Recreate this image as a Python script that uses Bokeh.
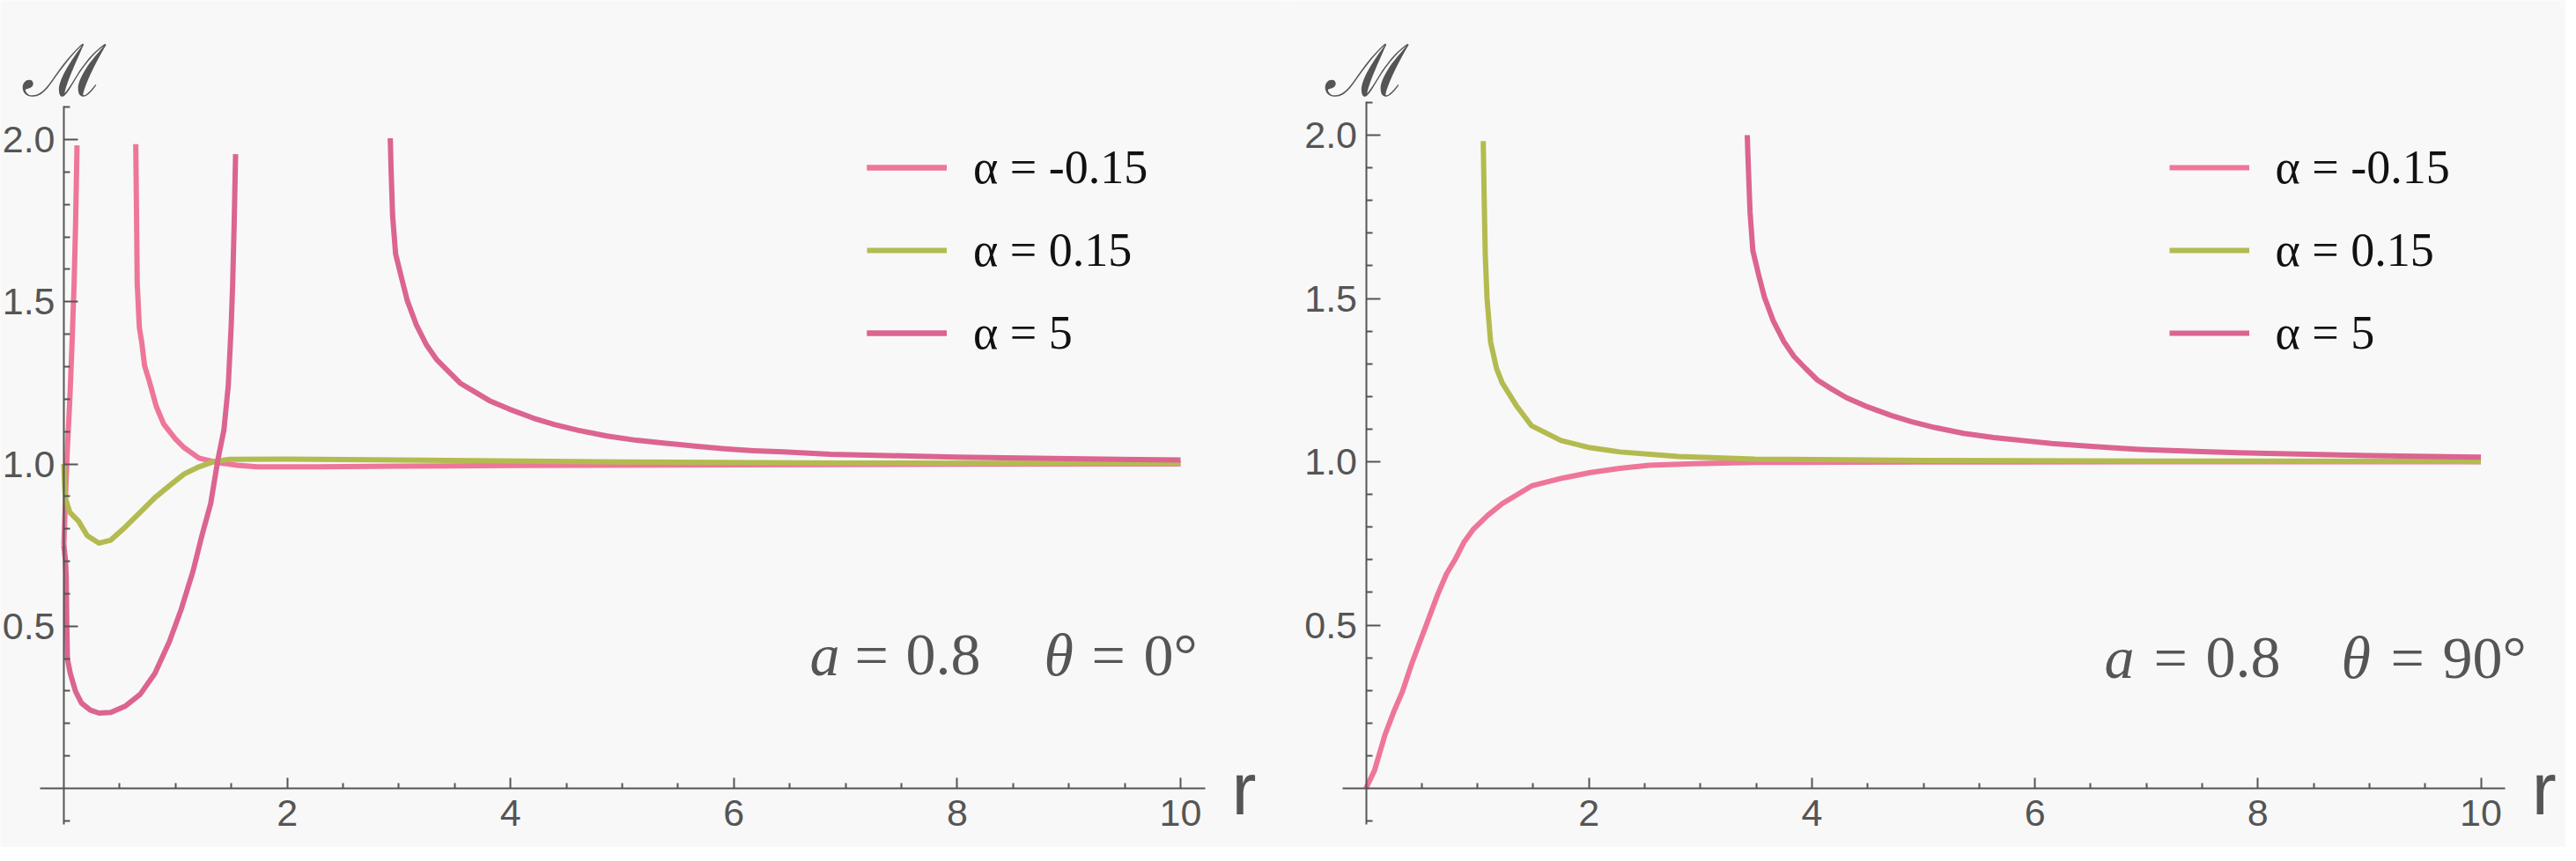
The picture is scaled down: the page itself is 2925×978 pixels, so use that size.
from bokeh.plotting import figure
from bokeh.models import Range1d, FixedTicker, BasicTickFormatter, PrintfTickFormatter, Label
from bokeh.layouts import row
from bokeh.embed import file_html
from bokeh.resources import INLINE
from bokeh.core.properties import value

# ---------------- data ----------------
legend_labels = ["α = -0.15", "α = 0.15", "α = 5"]
x_major = [2, 4, 6, 8, 10]
x_minor = [0.5, 1, 1.5, 2.5, 3, 3.5, 4.5, 5, 5.5, 6.5, 7, 7.5, 8.5, 9, 9.5]
y_major = [0.5, 1.0, 1.5, 2.0]
y_minor = [-0.1, 0.1, 0.2, 0.3, 0.4, 0.6, 0.7, 0.8, 0.9, 1.1, 1.2, 1.3, 1.4,
           1.6, 1.7, 1.8, 1.9, 2.1]

# theta = 0 deg
t0_neg_inner_r = [0.0, 0.01, 0.02, 0.032, 0.053, 0.074, 0.092, 0.105, 0.118]
t0_neg_inner_m = [0.75, 0.85, 0.95, 1.05, 1.195, 1.376, 1.557, 1.738, 1.982]
t0_neg_outer_r = [0.644, 0.649, 0.657, 0.676, 0.697, 0.723, 0.762, 0.828, 0.894, 0.999,
                  1.078, 1.21, 1.367, 1.551, 1.735, 2.261, 3.0, 4.0, 6.0, 8.0, 10.0]
t0_neg_outer_m = [1.986, 1.828, 1.557, 1.421, 1.376, 1.303, 1.259, 1.177, 1.123, 1.077,
                  1.05, 1.018, 1.005, 0.996, 0.991, 0.991, 0.993, 0.995, 0.997, 0.999, 1.0]
t0_pos_r = [0.0, 0.005, 0.013, 0.053, 0.131, 0.21, 0.315, 0.42, 0.552, 0.684, 0.815,
            0.946, 1.078, 1.209, 1.341, 1.472, 2.0, 3.0, 5.0, 7.0, 10.0]
t0_pos_m = [1.0, 0.95, 0.896, 0.851, 0.824, 0.779, 0.756, 0.765, 0.806, 0.851, 0.896,
            0.933, 0.969, 0.991, 1.007, 1.014, 1.015, 1.012, 1.006, 1.003, 1.002]
t0_five_inner_r = [0.0, 0.015, 0.021, 0.026, 0.032, 0.058, 0.105, 0.158, 0.237, 0.315,
                   0.42, 0.552, 0.684, 0.815, 0.946, 1.052, 1.157, 1.236, 1.315, 1.38,
                   1.433, 1.472, 1.498, 1.512, 1.525, 1.538]
t0_five_inner_m = [0.75, 0.70, 0.652, 0.516, 0.399, 0.354, 0.299, 0.263, 0.241, 0.232,
                   0.234, 0.254, 0.29, 0.354, 0.453, 0.553, 0.67, 0.779, 0.878, 1.014,
                   1.104, 1.24, 1.421, 1.557, 1.738, 1.955]
t0_five_outer_r = [2.923, 2.931, 2.944, 2.971, 3.023, 3.076, 3.155, 3.247, 3.338, 3.444,
                   3.549, 3.68, 3.812, 3.996, 4.206, 4.39, 4.6, 4.863, 5.126, 5.389, 5.652,
                   5.915, 6.178, 6.441, 6.861, 7.5, 8.0, 9.0, 10.0]
t0_five_outer_m = [2.004, 1.9, 1.765, 1.647, 1.575, 1.503, 1.43, 1.367, 1.322, 1.285,
                   1.249, 1.222, 1.195, 1.168, 1.141, 1.122, 1.104, 1.086, 1.073, 1.064,
                   1.055, 1.047, 1.041, 1.037, 1.03, 1.025, 1.021, 1.016, 1.012]

# theta = 90 deg
t90_neg_r = [0.0, 0.077, 0.17, 0.249, 0.328, 0.407, 0.486, 0.565, 0.644, 0.723, 0.802,
             0.881, 0.96, 1.092, 1.223, 1.486, 1.75, 2.013, 2.276, 2.54, 2.934, 3.487,
             5.0, 7.0, 10.0]
t90_neg_m = [0.0, 0.055, 0.163, 0.234, 0.297, 0.378, 0.45, 0.522, 0.594, 0.657, 0.702,
             0.755, 0.792, 0.836, 0.872, 0.926, 0.949, 0.967, 0.98, 0.989, 0.994, 0.998,
             0.999, 1.0, 1.0]
t90_pos_r = [1.052, 1.06, 1.07, 1.086, 1.118, 1.171, 1.223, 1.355, 1.486, 1.75, 2.01,
             2.28, 2.8, 3.49, 5.0, 7.0, 10.0]
t90_pos_m = [1.982, 1.816, 1.636, 1.501, 1.367, 1.286, 1.241, 1.169, 1.11, 1.065, 1.043,
             1.03, 1.016, 1.008, 1.004, 1.002, 1.001]
t90_five_r = [3.42, 3.43, 3.445, 3.47, 3.52, 3.575, 3.655, 3.75, 3.84, 3.945, 4.05, 4.18,
              4.31, 4.5, 4.71, 4.89, 5.1, 5.36, 5.63, 5.89, 6.15, 6.42, 6.68, 6.94, 7.5,
              8.0, 9.0, 10.0]
t90_five_m = [2.0, 1.9, 1.765, 1.647, 1.575, 1.503, 1.43, 1.367, 1.322, 1.285, 1.25,
              1.222, 1.196, 1.168, 1.142, 1.123, 1.105, 1.087, 1.074, 1.065, 1.056, 1.049,
              1.043, 1.038, 1.031, 1.026, 1.019, 1.014]

notes_t0 = ["a", "=", "0.8", "θ", "=", "0°"]
notes_t90 = ["a", "=", "0.8", "θ", "=", "90°"]

# ---------------- styling ----------------
C_NEG = "#ee7699"
C_POS = "#b3bb50"
C_FIVE = "#dc6490"
AX = "#555555"
BG = "#f8f8f8"
H = 962
Y0 = 895.0   # px from figure top down to data y = 0


def make_panel(width, origin_px, kx, ky, curves, notes, note_px, note_base):
    # origin_px: px of data x=0 from figure left
    xa = -origin_px / kx
    xb = xa + width / kx
    yt = Y0 / ky
    yb = -(H - Y0) / ky
    p = figure(width=width, height=H, x_range=Range1d(xa, xb), y_range=Range1d(yb, yt),
               output_backend="svg", toolbar_location=None, min_border=0,
               background_fill_color=BG, border_fill_color=BG, outline_line_color=None)
    p.grid.visible = False

    xax = p.xaxis[0]
    xax.fixed_location = 0
    xax.bounds = (-0.21, 10.22)
    xax.ticker = FixedTicker(ticks=x_major, minor_ticks=x_minor)
    xax.formatter = BasicTickFormatter()
    yax = p.yaxis[0]
    yax.fixed_location = 0
    yax.bounds = (-0.11, 2.102)
    yax.ticker = FixedTicker(ticks=y_major, minor_ticks=y_minor)
    yax.formatter = PrintfTickFormatter(format="%.1f")
    for ax, tin, mtin, stand in ((xax, 12, 6, 13), (yax, 16, 7, 10)):
        ax.axis_line_color = AX
        ax.axis_line_width = 2
        ax.major_tick_line_color = AX
        ax.major_tick_line_width = 2
        ax.minor_tick_line_color = AX
        ax.minor_tick_line_width = 2
        ax.major_tick_in = tin
        ax.major_tick_out = 0
        ax.minor_tick_in = mtin
        ax.minor_tick_out = 0
        ax.major_label_text_font = "Liberation Sans"
        ax.major_label_text_font_size = "43px"
        ax.major_label_text_color = AX
        ax.major_label_standoff = stand

    for (r, m, color, label) in curves:
        p.line(r, m, line_color=color, line_width=6, legend_label=label,
               line_join="round")

    lg = p.legend[0]
    lg.location = (origin_px + 912, 553)
    lg.padding = 0
    lg.margin = 0
    lg.spacing = 32
    lg.glyph_width = 91
    lg.glyph_height = 40
    lg.label_height = 40
    lg.label_standoff = 30
    lg.label_text_font = "Liberation Serif"
    lg.label_text_font_size = "54px"
    lg.label_text_color = "#111111"
    lg.background_fill_alpha = 0
    lg.border_line_alpha = 0

    # axis names
    p.text(x=[0.01], y=[(Y0 - 80) / ky], text=["ℳ"], text_font=value("DejaVu Serif"),
           text_font_size="82px", text_color=AX, text_align="center",
           text_baseline="alphabetic")
    p.add_layout(Label(x=10.22 + 30 / kx, y=-(H - Y0 - 20) / ky, text="r",
                       text_font="Liberation Sans", text_font_size="84px",
                       text_color=AX, text_align="left", text_baseline="bottom"))

    # a = 0.8   theta = ...
    styles = ["italic", "normal", "normal", "italic", "normal", "normal"]
    for t, px, st in zip(notes, note_px, styles):
        p.text(x=[(px - origin_px) / kx], y=[(Y0 - note_base) / ky], text=[t],
               text_font=value("Liberation Serif"), text_font_size="68px",
               text_font_style=st, text_color=AX, text_align="left",
               text_baseline="alphabetic")
    return p


left_curves = [
    (t0_neg_inner_r, t0_neg_inner_m, C_NEG, legend_labels[0]),
    (t0_neg_outer_r, t0_neg_outer_m, C_NEG, legend_labels[0]),
    (t0_pos_r, t0_pos_m, C_POS, legend_labels[1]),
    (t0_five_inner_r, t0_five_inner_m, C_FIVE, legend_labels[2]),
    (t0_five_outer_r, t0_five_outer_m, C_FIVE, legend_labels[2]),
]
right_curves = [
    (t90_neg_r, t90_neg_m, C_NEG, legend_labels[0]),
    (t90_pos_r, t90_pos_m, C_POS, legend_labels[1]),
    (t90_five_r, t90_five_m, C_FIVE, legend_labels[2]),
]

# left figure: page x 8..1470 ; right figure: page x 1470..2921
left = make_panel(1462, 72, 126.8, 368.5, left_curves, notes_t0,
                  [927 - 8, 978 - 8, 1036 - 8, 1193 - 8, 1247 - 8, 1306 - 8], 751 - 8)
right = make_panel(1451, 88.5, 126.6, 371.0, right_curves, notes_t90,
                   [2397 - 1470, 2453 - 1470, 2512 - 1470, 2666 - 1470, 2722 - 1470,
                    2781 - 1470], 754 - 8)

layout = row(left, right, spacing=0)
open("out.html", "w").write(file_html(layout, INLINE))
